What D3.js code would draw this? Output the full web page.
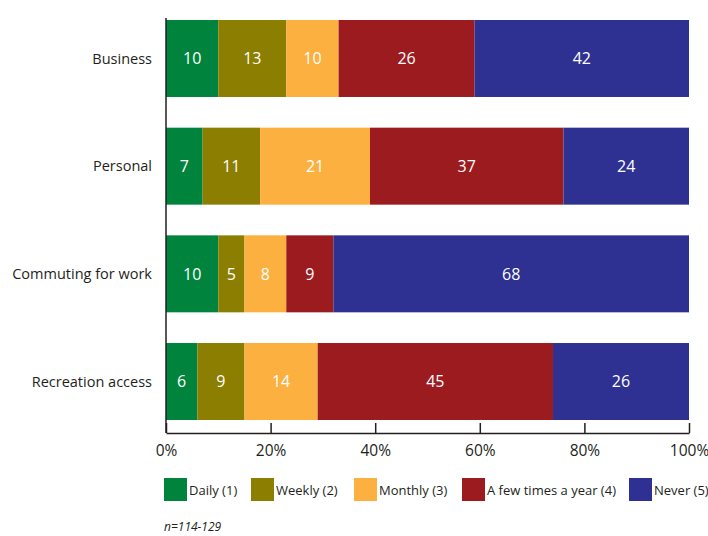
<!DOCTYPE html>
<html>
<head>
<meta charset="utf-8">
<script src="https://cdn.jsdelivr.net/npm/d3@7"></script>
<style>
  body { margin: 0; background: #fff; }
  svg { display: block; font-family: "Open Sans", sans-serif; }
</style>
</head>
<body>
<svg id="chart" width="708" height="536"></svg>
<script>
const categories = ["Business", "Personal", "Commuting for work", "Recreation access"];
const seriesNames = ["Daily (1)", "Weekly (2)", "Monthly (3)", "A few times a year (4)", "Never (5)"];
const daily = [10, 7, 10, 6];
const weekly = [13, 11, 5, 9];
const monthly = [10, 21, 8, 14];
const fewTimes = [26, 37, 9, 45];
const never = [42, 24, 68, 26];
const tickLabels = ["0%", "20%", "40%", "60%", "80%", "100%"];
const colors = ["#00843d", "#8c7e00", "#fbb040", "#9b1b1f", "#2e3192"];

const seriesValues = [daily, weekly, monthly, fewTimes, never];

const svg = d3.select("#chart");
const x0 = 166, x1 = 689;
const x = d3.scaleLinear().domain([0, 100]).range([x0, x1]).clamp(true);
const y = d3.scaleBand().domain(categories).range([20, 420]).paddingInner(0.285).paddingOuter(0);
const color = d3.scaleOrdinal().domain(seriesNames).range(colors);

// stacked rows (rounded values; bars capped at 100%)
const rows = categories.map((c, i) => {
  let cum = 0;
  return seriesValues.map((s, j) => {
    const v = s[i];
    const start = cum;
    cum += v;
    return { cat: c, series: seriesNames[j], value: v, start, end: cum };
  });
});

const g = svg.append("g");
rows.forEach(r => {
  const rg = g.append("g");
  rg.selectAll("rect").data(r).join("rect")
    .attr("x", d => x(d.start))
    .attr("width", d => x(d.end) - x(d.start))
    .attr("y", d => y(d.cat))
    .attr("height", y.bandwidth())
    .attr("fill", d => color(d.series));
  rg.selectAll("text").data(r).join("text")
    .attr("x", d => (x(d.start) + x(d.end)) / 2)
    .attr("y", d => y(d.cat) + y.bandwidth() / 2)
    .attr("dy", "0.36em")
    .attr("text-anchor", "middle")
    .attr("fill", "#fff")
    .attr("font-size", 16)
    .text(d => d.value);
});

// category labels
svg.append("g").selectAll("text").data(categories).join("text")
  .attr("x", 152)
  .attr("y", d => y(d) + y.bandwidth() / 2)
  .attr("dy", "0.36em")
  .attr("text-anchor", "end")
  .attr("fill", "#231f20")
  .attr("font-size", 14.5)
  .text(d => d);

// axes
const axisY = 433;
const xAxis = d3.axisBottom(x)
  .tickValues([0, 20, 40, 60, 80, 100])
  .tickFormat((d, i) => tickLabels[i])
  .tickSizeInner(-10)
  .tickSizeOuter(0)
  .tickPadding(12);
const ax = svg.append("g").attr("transform", `translate(0,${axisY})`).call(xAxis);
ax.select(".domain").attr("stroke", "#231f20").attr("stroke-width", 1.5);
ax.selectAll(".tick line").attr("stroke", "#231f20").attr("stroke-width", 1.5);
ax.selectAll(".tick text").attr("fill", "#231f20").attr("font-size", 15.5).attr("font-family", "Open Sans, sans-serif");

svg.append("line")
  .attr("x1", x0).attr("x2", x0)
  .attr("y1", 18).attr("y2", axisY)
  .attr("stroke", "#231f20").attr("stroke-width", 1.5);

// legend
const legendX = [164, 251, 354, 462, 629];
const lg = svg.append("g");
seriesNames.forEach((s, i) => {
  lg.append("rect").attr("x", legendX[i]).attr("y", 478).attr("width", 23).attr("height", 23).attr("fill", color(s));
  lg.append("text").attr("x", legendX[i] + 25).attr("y", 490).attr("dy", "0.36em")
    .attr("font-size", 13).attr("fill", "#231f20").text(s);
});

svg.append("text").attr("x", 164).attr("y", 531)
  .attr("font-size", 12).attr("font-style", "italic").attr("fill", "#231f20")
  .text("n=114-129");
</script>
</body>
</html>
